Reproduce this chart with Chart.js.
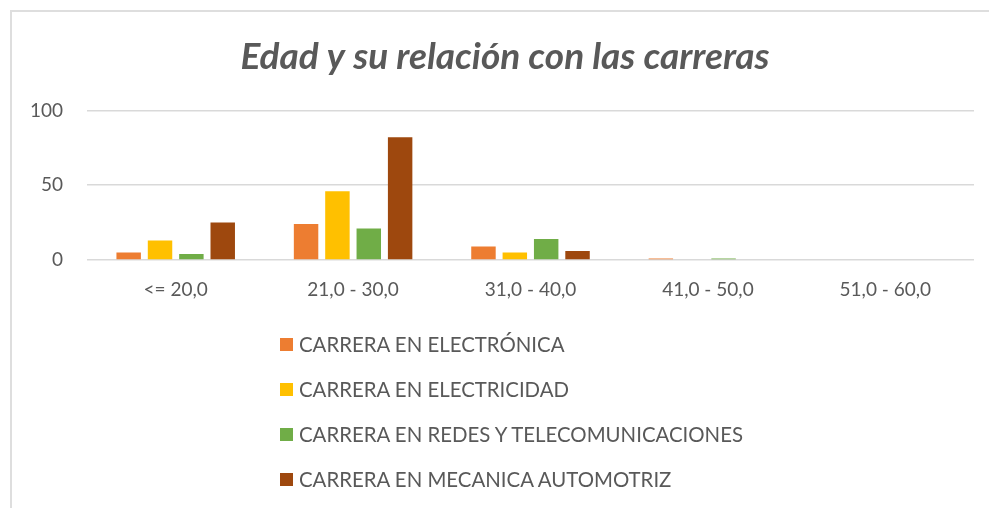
<!DOCTYPE html>
<html lang="es">
<head>
<meta charset="utf-8">
<title>Edad y su relación con las carreras</title>
<script src="https://cdn.jsdelivr.net/npm/chart.js@4.4.1/dist/chart.umd.min.js"></script>
<style>
    html, body { margin: 0; padding: 0; background: #fff; }
    #wrap { position: relative; width: 989px; height: 508px; overflow: hidden; }
    #frame { position: absolute; left: 10px; top: 10px; right: -5px; bottom: -5px; border-left: 2px solid #dedede; border-top: 2px solid #dedede; }
    #edadChart { position: absolute; left: 0; top: 0; }
    #legendBox { position: absolute; left: 280px; top: 330px; font-family: Lato, sans-serif; font-size: 20.4px; color: #595959; }
    .leg-item { display: flex; align-items: center; height: 28px; margin-bottom: 17px; white-space: nowrap; }
    .leg-box { width: 13px; height: 13px; margin-right: 6px; flex: none; }
</style>
</head>
<body>
<div id="wrap">
    <div id="frame"></div>
    <canvas id="edadChart" width="989" height="508"></canvas>
    <div id="legendBox"></div>
</div>
<script>
// data dari grafik asli
const rangosEdad = ['<= 20,0', '21,0 - 30,0', '31,0 - 40,0', '41,0 - 50,0', '51,0 - 60,0'];
const electronica = [5, 24, 9, 1, 0];
const electricidad = [13, 46, 5, 0, 0];
const redesTelecom = [4, 21, 14, 1, 0];
const mecanica = [25, 82, 6, 0, 0];
const ticksEje = [0, 50, 100];

const textoGris = '#595959';
const lineaGris = '#d9d9d9';

let ctxEdad = document.getElementById('edadChart').getContext('2d');

let datasetBar = (label, data, color) => ({
    label,
    data,
    backgroundColor: color,
    borderWidth: 0,
    categoryPercentage: 0.707,
    barPercentage: 0.78
});

let edadChart = new Chart(ctxEdad, {
    type: 'bar',
    data: {
        labels: rangosEdad,
        datasets: [
            datasetBar('CARRERA EN ELECTRÓNICA', electronica, '#ED7D31'),
            datasetBar('CARRERA EN ELECTRICIDAD', electricidad, '#FFC000'),
            datasetBar('CARRERA EN REDES Y TELECOMUNICACIONES', redesTelecom, '#70AD47'),
            datasetBar('CARRERA EN MECANICA AUTOMOTRIZ', mecanica, '#9E480E')
        ]
    },
    options: {
        responsive: false,
        animation: false,
        layout: {
            padding: { left: 26, right: 5, top: 12, bottom: 188 }
        },
        plugins: {
            legend: { display: false }, // legend dibuat manual di bawah (vertikal)
            tooltip: { enabled: false },
            title: {
                display: true,
                text: 'Edad y su relación con las carreras',
                color: textoGris,
                font: { family: 'Lato', size: 37, weight: 'bold', style: 'italic' },
                padding: { top: 23, bottom: 31 }
            }
        },
        scales: {
            x: {
                grid: { display: false },
                border: { display: false },
                ticks: {
                    color: textoGris,
                    font: { family: 'Lato', size: 19 },
                    padding: 10,
                    maxRotation: 0
                },
                afterFit: scale => { scale.height = 60; }
            },
            y: {
                min: 0,
                max: 100,
                afterBuildTicks: scale => { scale.ticks = ticksEje.map(v => ({ value: v })); },
                grid: { color: lineaGris, lineWidth: 1.5, drawTicks: false },
                border: { display: false },
                ticks: {
                    color: textoGris,
                    font: { family: 'Lato', size: 19 },
                    padding: 24
                },
                afterFit: scale => { scale.width = 61; }
            },
            // axis kosong di kanan, cuma biar judul pas di tengah
            yKanan: {
                axis: 'y',
                position: 'right',
                grid: { display: false },
                border: { display: false },
                ticks: { display: false },
                afterFit: scale => { scale.width = 10; }
            }
        }
    }
});

// legend HTML, isinya diambil dari dataset chart
function renderLegend(chart) {
    let box = document.getElementById('legendBox');
    box.innerHTML = '';
    chart.data.datasets.forEach(ds => {
        let item = document.createElement('div');
        item.className = 'leg-item';
        let sq = document.createElement('span');
        sq.className = 'leg-box';
        sq.style.background = ds.backgroundColor;
        let txt = document.createElement('span');
        txt.textContent = ds.label;
        item.appendChild(sq);
        item.appendChild(txt);
        box.appendChild(item);
    });
}
renderLegend(edadChart);
</script>
</body>
</html>
